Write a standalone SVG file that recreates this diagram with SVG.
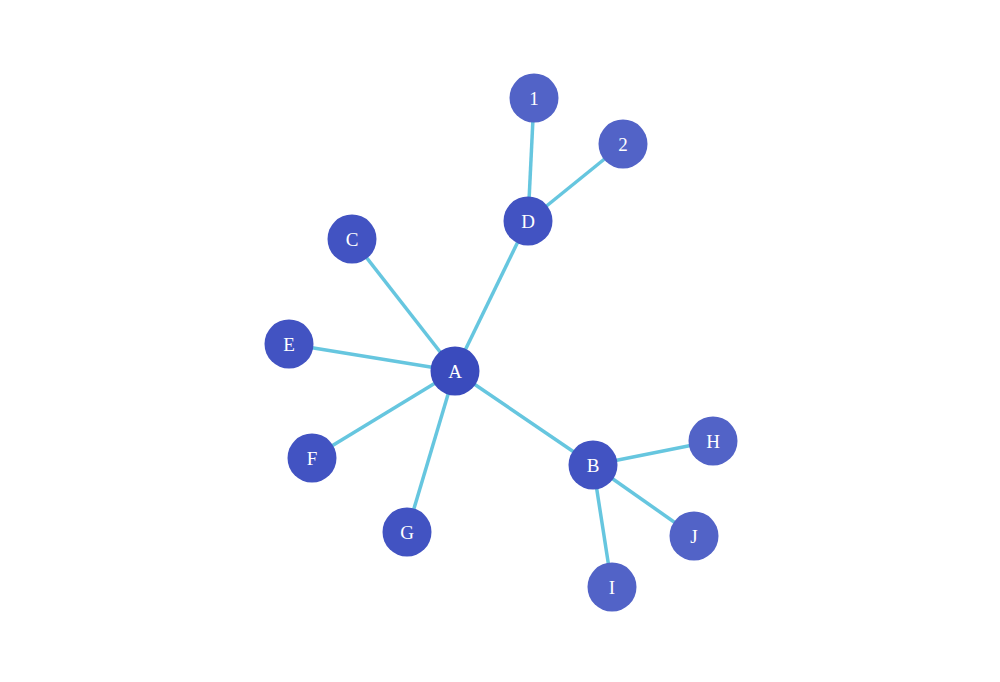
<svg xmlns="http://www.w3.org/2000/svg" width="1000" height="682" viewBox="0 0 1000 682">
<style>
.e{stroke:#66c6df;stroke-width:3.5}
.n1{fill:#3a4bbd}.n2{fill:#4253c2}.n3{fill:#5263c7}
text{font-family:"Liberation Serif",serif;font-size:19px;fill:#fff;text-anchor:middle;dominant-baseline:central}
</style>
<rect width="1000" height="682" fill="#fff"/>
<g id="edges">
<line class="e" x1="455" y1="371" x2="593" y2="465"/>
<line class="e" x1="455" y1="371" x2="352" y2="239"/>
<line class="e" x1="455" y1="371" x2="528" y2="221"/>
<line class="e" x1="455" y1="371" x2="289" y2="344"/>
<line class="e" x1="455" y1="371" x2="312" y2="458"/>
<line class="e" x1="455" y1="371" x2="407" y2="532"/>
<line class="e" x1="528" y1="221" x2="534" y2="98"/>
<line class="e" x1="528" y1="221" x2="623" y2="144"/>
<line class="e" x1="593" y1="465" x2="713" y2="441"/>
<line class="e" x1="593" y1="465" x2="694" y2="536"/>
<line class="e" x1="593" y1="465" x2="612" y2="587"/>
</g>
<g id="A"><circle class="n1" cx="455" cy="371" r="24.5"/><text x="455" y="371">A</text></g>
<g id="B"><circle class="n2" cx="593" cy="465" r="24.5"/><text x="593" y="465">B</text></g>
<g id="C"><circle class="n2" cx="352" cy="239" r="24.5"/><text x="352" y="239">C</text></g>
<g id="D"><circle class="n2" cx="528" cy="221" r="24.5"/><text x="528" y="221">D</text></g>
<g id="E"><circle class="n2" cx="289" cy="344" r="24.5"/><text x="289" y="344">E</text></g>
<g id="F"><circle class="n2" cx="312" cy="458" r="24.5"/><text x="312" y="458">F</text></g>
<g id="G"><circle class="n2" cx="407" cy="532" r="24.5"/><text x="407" y="532">G</text></g>
<g id="n1"><circle class="n3" cx="534" cy="98" r="24.5"/><text x="534" y="98">1</text></g>
<g id="n2"><circle class="n3" cx="623" cy="144" r="24.5"/><text x="623" y="144">2</text></g>
<g id="H"><circle class="n3" cx="713" cy="441" r="24.5"/><text x="713" y="441">H</text></g>
<g id="J"><circle class="n3" cx="694" cy="536" r="24.5"/><text x="694" y="536">J</text></g>
<g id="I"><circle class="n3" cx="612" cy="587" r="24.5"/><text x="612" y="587">I</text></g>
</svg>
